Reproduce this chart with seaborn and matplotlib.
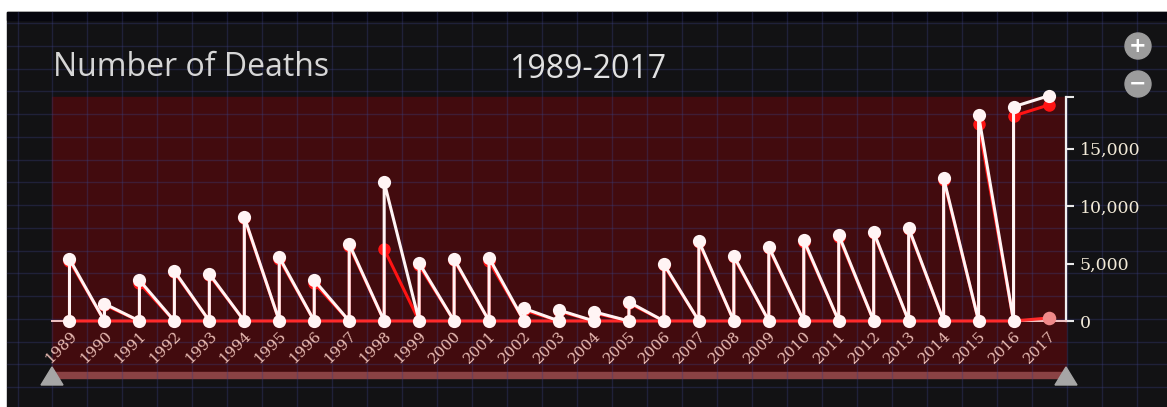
import matplotlib
matplotlib.use("Agg")
import matplotlib.pyplot as plt
from matplotlib.patches import Rectangle, Circle, Polygon
import numpy as np
import pandas as pd
import seaborn as sns

# data
years = list(range(1989, 2018))
total_deaths = [5400, 1500, 3550, 4350, 4100, 9050, 5550, 3550, 6700, 12100,
                5050, 5400, 5500, 1100, 950, 800, 1650, 4950, 6950, 5650,
                6450, 7050, 7500, 7750, 8100, 12450, 17900, 18650, 19600]
red_deaths = [5250, 1400, 3300, 4250, 4000, 8950, 5400, 3300, 6550, 6250,
              4850, 5300, 5200, 950, 850, 700, 1550, 4850, 6850, 5550,
              6350, 6900, 7350, 7650, 8000, 12300, 17150, 17850, 18800]
low_deaths = [0, 0, 0, 0, 0, 0, 0, 0, 0, 0,
              0, 0, 0, 0, 0, 0, 0, 0, 0, 0,
              0, 0, 0, 0, 0, 0, 0, 0, 260]
y_ticks = [0, 5000, 10000, 15000, 19500]
y_labels = ["0", "5,000", "10,000", "15,000", ""]


def zigzag(highs, lows):
    # every year: low point, then high point; last year only the high point
    rows = []
    for i, (h, lo) in enumerate(zip(highs, lows)):
        if i < len(highs) - 1:
            rows.append((i, lo))
        rows.append((i, h))
    return pd.DataFrame(rows, columns=["pos", "deaths"])


white_df = zigzag(total_deaths, low_deaths)
red_df = zigzag(red_deaths, low_deaths)
base_df = pd.DataFrame({"pos": range(len(years)), "deaths": low_deaths})

sns.set_theme(style="dark")
plt.rcParams["font.family"] = ["DejaVu Sans"]

W, H = 1167, 407
fig = plt.figure(figsize=(W / 100, H / 100), dpi=100)
fig.patch.set_facecolor("white")

# background canvas in pixel coordinates
bg = fig.add_axes([0, 0, 1, 1])
bg.set_xlim(0, W)
bg.set_ylim(H, 0)
bg.axis("off")
bg.add_patch(Rectangle((7, 12), W - 7, H - 12, color="#121214", zorder=0))
bg.add_patch(Rectangle((7, 12), W - 7, 8, color="#06060e", zorder=0.5))
bg.add_patch(Rectangle((52, 97), 1014, 275, color="#420b0e", zorder=1))
bg.add_patch(Rectangle((52, 372), 1014, 6, color="#8a4244", zorder=1))
for gx in np.arange(17.5, W, 34.97):
    bg.plot([gx, gx], [12, H], color="#3a3f80", lw=1, alpha=0.35, zorder=2)
for gy in np.arange(23, H, 22.75):
    bg.plot([7, W], [gy, gy], color="#3a3f80", lw=1, alpha=0.35, zorder=2)
for tx in (52, 1066):
    bg.add_patch(Polygon([[tx - 11, 385], [tx + 11, 385], [tx, 367]],
                         color="#a6a6a6", zorder=3))
for cy, sym in ((46, "+"), (84, "\u2212")):
    bg.add_patch(Circle((1138, cy), 13, color="#9c9c9c", zorder=3))
    bg.text(1138, cy, sym, color="white", fontsize=15, fontweight="bold",
            ha="center", va="center", zorder=4)
bg.text(53, 67, "Number of Deaths", color="#d6d6d6", fontsize=23,
        family="Open Sans", ha="left", va="center", zorder=4)
bg.text(588, 69, "1989-2017", color="#e2e2e2", fontsize=23,
        family="Open Sans", ha="center", va="center", zorder=4)

# main chart
ax = fig.add_axes([52 / W, 1 - 321 / H, 1014 / W, 224 / H])
ax.patch.set_alpha(0)
ax.grid(False)

sns.lineplot(data=base_df, x="pos", y="deaths", ax=ax, color="#ff2a2a",
             lw=2.2, estimator=None, sort=False, zorder=3, clip_on=False)
sns.lineplot(data=red_df, x="pos", y="deaths", ax=ax, color="#ff1414",
             lw=2.2, marker="o", markersize=9, markeredgewidth=0,
             estimator=None, sort=False, zorder=4, clip_on=False)
sns.lineplot(data=white_df, x="pos", y="deaths", ax=ax, color="#fff4f4",
             lw=2.2, marker="o", markersize=9.5, markeredgewidth=0,
             estimator=None, sort=False, zorder=5, clip_on=False)
sns.scatterplot(x=[len(years) - 1], y=[low_deaths[-1]], ax=ax,
                color="#f08a8a", s=95, linewidth=0, zorder=6, clip_on=False)

ax.set_xlim(-0.5, len(years) - 0.5)
ax.set_ylim(0, 19500)
ax.set_xlabel("")
ax.set_ylabel("")

ax.set_xticks(range(len(years)))
ax.set_xticklabels([str(y) for y in years], rotation=45, ha="right",
                   rotation_mode="anchor", color="#e9bcb4", fontsize=11,
                   family="DejaVu Serif")
ax.set_xticks(np.arange(-0.5, len(years)), minor=True)
ax.tick_params(axis="x", which="major", length=0, pad=5)
ax.tick_params(axis="x", which="minor", length=8, width=1.2,
               color="#f0c8c8", direction="out")
for lab in ax.get_xticklabels():
    lab.set_transform(lab.get_transform() +
                      matplotlib.transforms.ScaledTranslation(0.0, -0.01,
                                                              fig.dpi_scale_trans))

ax.yaxis.tick_right()
ax.set_yticks(y_ticks)
ax.set_yticklabels(y_labels, color="#f2ead8", fontsize=12.5,
                   family="DejaVu Serif")
ax.tick_params(axis="y", length=6, width=1.5, color="#e8e8e8", pad=4,
               direction="out")

for side in ("left", "top"):
    ax.spines[side].set_visible(False)
ax.spines["right"].set_color("#f0f0f0")
ax.spines["right"].set_linewidth(1.6)
ax.spines["bottom"].set_color("#f2c6c6")
ax.spines["bottom"].set_linewidth(1.4)

fig.savefig("out.png", dpi=100, facecolor=fig.get_facecolor())
